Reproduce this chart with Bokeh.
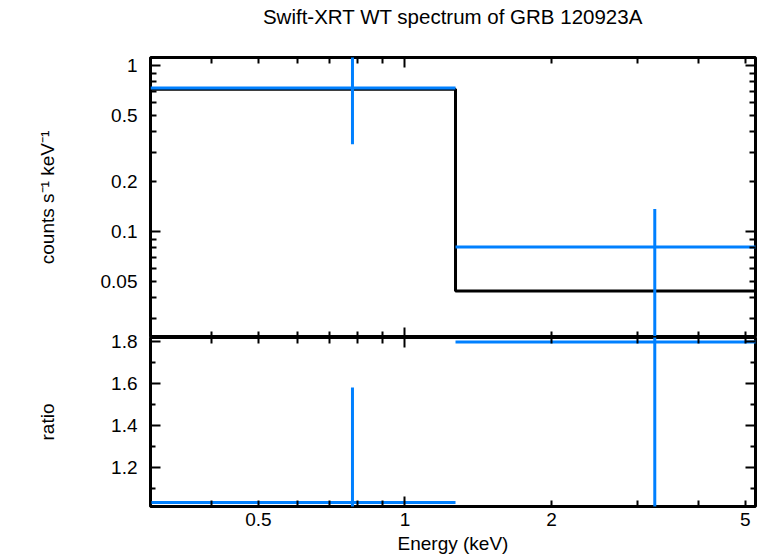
from bokeh.plotting import figure
from bokeh.layouts import column
from bokeh.models import FixedTicker, LogAxis, LinearAxis, CustomJSTickFormatter, Range1d
from bokeh.embed import file_html
from bokeh.resources import INLINE

# ---------------- data ----------------
title_text = "Swift-XRT WT spectrum of GRB 120923A"
e_lo = [0.3, 1.27]
e_hi = [1.27, 5.3]
e_mid = [0.78, 3.26]
rate = [0.731, 0.081]
rate_lo = [0.336, 0.01]
rate_hi = [1.3, 0.137]
model = [0.72, 0.044]
ratio = [1.032, 1.797]
ratio_lo = [0.48, 0.53]
ratio_hi = [1.581, 3.07]

x_labels = [0.5, 1, 2, 5]
x_long = [1]
x_minor = [0.3, 0.4, 0.5, 0.6, 0.7, 0.8, 0.9, 2, 3, 4, 5]
yu_labels = [0.05, 0.1, 0.2, 0.5, 1]
yu_long = [0.1, 1]
yu_minor = [0.03, 0.04, 0.05, 0.06, 0.07, 0.08, 0.09, 0.2, 0.3, 0.4, 0.5, 0.6, 0.7, 0.8, 0.9]
yl_major = [1.2, 1.4, 1.6, 1.8]
yl_minor = [1.1, 1.3, 1.5, 1.7]

BLUE = "#0080ff"
FONT = "Liberation Sans"
FS = "19px"


def tick_axis(cls, major, minor, long_len=10, short_len=6):
    ax = cls(ticker=FixedTicker(ticks=major, minor_ticks=minor),
             formatter=CustomJSTickFormatter(code="return ''"))
    ax.major_tick_in = long_len
    ax.major_tick_out = 0
    ax.minor_tick_in = short_len
    ax.minor_tick_out = 0
    ax.major_tick_line_width = 2
    ax.minor_tick_line_width = 2
    ax.major_tick_line_color = "black"
    ax.minor_tick_line_color = "black"
    ax.axis_line_color = None
    ax.major_label_text_font_size = "1px"
    ax.major_label_standoff = 0
    return ax


def label_axis(cls, ticks, standoff, label, label_standoff):
    ax = cls(ticker=FixedTicker(ticks=ticks, minor_ticks=[]),
             formatter=CustomJSTickFormatter(code="return tick.toString()"))
    ax.major_tick_in = 0
    ax.major_tick_out = 0
    ax.minor_tick_in = 0
    ax.minor_tick_out = 0
    ax.major_tick_line_color = None
    ax.minor_tick_line_color = None
    ax.axis_line_color = None
    ax.major_label_standoff = standoff
    ax.major_label_text_font = FONT
    ax.major_label_text_font_size = FS
    ax.major_label_text_color = "black"
    ax.axis_label = label
    ax.axis_label_standoff = label_standoff
    ax.axis_label_text_font = FONT
    ax.axis_label_text_font_size = FS
    ax.axis_label_text_font_style = "normal"
    ax.axis_label_text_color = "black"
    return ax


# ---------------- upper panel ----------------
p1 = figure(width=763, height=337, x_axis_type="log", y_axis_type="log",
            x_axis_location=None, y_axis_location=None,
            x_range=Range1d(0.3, 5.25), y_range=Range1d(0.0231, 1.117),
            output_backend="svg", toolbar_location=None,
            min_border_left=150, min_border_right=8, min_border_top=57, min_border_bottom=0)
p1.outline_line_color = "black"
p1.outline_line_width = 3
p1.grid.visible = False

p1.add_layout(tick_axis(LogAxis, x_long, x_minor), "below")
top_ax = tick_axis(LogAxis, x_long, x_minor)
top_ax.axis_label = title_text
top_ax.axis_label_standoff = 30
top_ax.axis_label_text_font = FONT
top_ax.axis_label_text_font_size = "20.5px"
top_ax.axis_label_text_font_style = "normal"
top_ax.axis_label_text_color = "black"
p1.add_layout(top_ax, "above")
p1.add_layout(tick_axis(LogAxis, yu_long, yu_minor), "left")
p1.add_layout(label_axis(LogAxis, yu_labels, 13, "counts s\u207b\u00b9 keV\u207b\u00b9", 40), "left")
p1.add_layout(tick_axis(LogAxis, yu_long, yu_minor), "right")

model_x = e_lo + [e_hi[-1]]
model_y = model + [model[-1]]
p1.step(model_x, model_y, mode="after", line_color="black", line_width=3)
p1.segment(x0=e_lo, x1=e_hi, y0=rate, y1=rate, line_color=BLUE, line_width=3)
p1.segment(x0=e_mid, x1=e_mid, y0=rate_lo, y1=rate_hi, line_color=BLUE, line_width=3)

# ---------------- lower panel ----------------
p2 = figure(width=763, height=231, x_axis_type="log",
            x_axis_location=None, y_axis_location=None,
            x_range=p1.x_range, y_range=Range1d(1.013, 1.819),
            output_backend="svg", toolbar_location=None,
            min_border_left=150, min_border_right=8, min_border_top=12, min_border_bottom=50)
p2.margin = (-12, 0, 0, 0)
p2.background_fill_color = None
p2.border_fill_color = None
p2.outline_line_color = "black"
p2.outline_line_width = 3
p2.grid.visible = False

p2.add_layout(tick_axis(LogAxis, x_long, x_minor), "above")
p2.add_layout(tick_axis(LogAxis, x_long, x_minor), "below")
p2.add_layout(label_axis(LogAxis, x_labels, 6, "Energy (keV)", 4), "below")

ly = LinearAxis(ticker=FixedTicker(ticks=yl_major, minor_ticks=yl_minor),
                formatter=CustomJSTickFormatter(code="return tick.toFixed(1)"))
ly.major_tick_in = 10
ly.major_tick_out = 0
ly.minor_tick_in = 5
ly.minor_tick_out = 0
ly.major_tick_line_width = 2
ly.minor_tick_line_width = 2
ly.major_tick_line_color = "black"
ly.minor_tick_line_color = "black"
ly.axis_line_color = None
ly.major_label_standoff = 13
ly.major_label_text_font = FONT
ly.major_label_text_font_size = FS
ly.major_label_text_color = "black"
ly.axis_label = "ratio"
ly.axis_label_standoff = 50
ly.axis_label_text_font = FONT
ly.axis_label_text_font_size = FS
ly.axis_label_text_font_style = "normal"
ly.axis_label_text_color = "black"
p2.add_layout(ly, "left")
p2.add_layout(tick_axis(LinearAxis, yl_major, yl_minor, 10, 5), "right")

p2.segment(x0=e_lo, x1=e_hi, y0=ratio, y1=ratio, line_color=BLUE, line_width=3)
p2.segment(x0=e_mid, x1=e_mid, y0=ratio_lo, y1=ratio_hi, line_color=BLUE, line_width=3)

layout = column(p1, p2, spacing=0)
open("out.html", "w").write(file_html(layout, INLINE))
